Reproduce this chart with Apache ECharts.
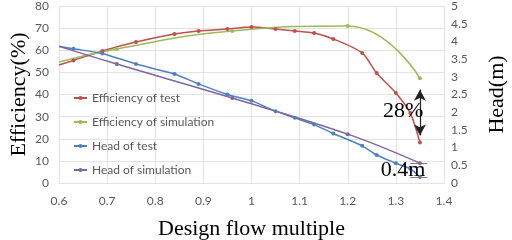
<!DOCTYPE html>
<html>
<head>
<meta charset="utf-8">
<script src="https://cdn.jsdelivr.net/npm/echarts@6/dist/echarts.min.js"></script>
<style>
  html, body { margin: 0; padding: 0; background: #fff; }
  #chart { width: 512px; height: 240px; }
</style>
</head>
<body>
<div id="chart"></div>
<script>
// design flow multiple (x) for each series
const flowTest = [0.6, 0.63, 0.69, 0.76, 0.84, 0.89, 0.95, 1.0, 1.05, 1.09, 1.13, 1.17, 1.23, 1.26, 1.30, 1.33, 1.35]
const flowSim = [0.6, 0.72, 0.96, 1.2, 1.35]

const effTest = [53.3, 55.4, 59.7, 63.7, 67.3, 68.7, 69.6, 70.5, 69.6, 68.7, 67.8, 65.1, 58.8, 49.7, 40.7, 31.6, 18.3]
const effSim = [54.7, 60.6, 68.7, 71.0, 47.3]
const headTest = [3.86, 3.79, 3.66, 3.36, 3.08, 2.80, 2.50, 2.32, 2.03, 1.84, 1.65, 1.40, 1.05, 0.79, 0.56, 0.40, 0.17]
const headSim = [3.86, 3.36, 2.40, 1.38, 0.56]

const names = ['Efficiency of test', 'Efficiency of simulation', 'Head of test', 'Head of simulation']
const colors = ['#c0504d', '#9bbb59', '#4f81bd', '#8064a2']

// annotations
const gapEff = [42.2, 21.5]      // arrow ends (efficiency axis)
const gapHead = [0.56, 0.17]     // head difference marks
const notes = [{ text: '28%', x: 1.315, y: 32.4 }, { text: '0.4m', x: 1.315, y: 0.36 }]

const serif = '"Liberation Serif", "Times New Roman", serif'
const sans = 'Lato, "Noto Sans", sans-serif'
const gridColor = '#e3e3e3'
const labelColor = '#595959'

const toPoints = (xs, ys) => xs.map((x, i) => (i === 0 ? { value: [x, ys[i]], symbol: 'none' } : [x, ys[i]]))

const chart = echarts.init(document.getElementById('chart'))

const lineSeries = (i, xs, ys, yAxisIndex, smooth) => ({
  name: names[i],
  type: 'line',
  yAxisIndex,
  data: toPoints(xs, ys),
  smooth,
  smoothMonotone: 'none',
  symbol: 'circle',
  symbolSize: 4,
  lineStyle: { width: 1.5, color: colors[i] },
  itemStyle: { color: colors[i] },
})

const noteLabel = (n) => ({
  coord: [n.x, n.y],
  label: { show: true, formatter: n.text, color: '#000', fontSize: 22, fontFamily: serif },
})

const effSimSeries = lineSeries(1, flowSim, effSim, 0, 0.5)
effSimSeries.markLine = {
  silent: true,
  symbol: ['arrow', 'arrow'],
  symbolSize: [9, 11],
  label: { show: false },
  lineStyle: { color: '#222', width: 1.2, type: 'solid' },
  data: [[{ coord: [1.35, gapEff[0]] }, { coord: [1.35, gapEff[1]] }]],
}
effSimSeries.markPoint = { silent: true, symbol: 'circle', symbolSize: 0, data: [noteLabel(notes[0])] }

const headSimSeries = lineSeries(3, flowSim, headSim, 1, 0.4)
headSimSeries.markLine = {
  silent: true,
  symbol: ['none', 'none'],
  label: { show: false },
  lineStyle: { color: '#7f7f7f', width: 1, type: 'solid' },
  data: gapHead.map((h) => [{ coord: [1.33, h] }, { coord: [1.365, h] }]),
}
headSimSeries.markPoint = { silent: true, symbol: 'circle', symbolSize: 0, data: [noteLabel(notes[1])] }

chart.setOption({
  animation: false,
  color: colors,
  grid: { left: 59, right: 68, top: 6, bottom: 57, outerBoundsMode: 'none' },
  legend: {
    orient: 'vertical',
    left: 68,
    top: 87,
    itemGap: 12,
    itemWidth: 13,
    itemHeight: 5,
    textStyle: { color: labelColor, fontSize: 12, fontFamily: sans },
    data: names,
  },
  xAxis: {
    type: 'value',
    min: 0.6,
    max: 1.4,
    interval: 0.1,
    name: 'Design flow multiple',
    nameLocation: 'middle',
    nameGap: 35,
    nameMoveOverlap: false,
    nameTextStyle: { color: '#000', fontSize: 22, fontFamily: serif },
    axisLine: { lineStyle: { color: gridColor } },
    axisTick: { show: false },
    axisLabel: { color: labelColor, fontSize: 12, fontFamily: sans, margin: 12 },
    splitLine: { lineStyle: { color: gridColor } },
  },
  yAxis: [
    {
      type: 'value',
      min: 0,
      max: 80,
      interval: 10,
      name: 'Efficiency(%)',
      nameLocation: 'middle',
      nameRotate: 90,
      nameGap: 29,
      nameMoveOverlap: false,
      nameTextStyle: { color: '#000', fontSize: 22, fontFamily: serif },
      axisLine: { show: false },
      axisTick: { show: false },
      axisLabel: { color: labelColor, fontSize: 12, fontFamily: sans, margin: 10 },
      splitLine: { lineStyle: { color: gridColor } },
    },
    {
      type: 'value',
      min: 0,
      max: 5,
      interval: 0.5,
      name: 'Head(m)',
      nameLocation: 'middle',
      nameRotate: 90,
      nameGap: 42,
      nameMoveOverlap: false,
      nameTextStyle: { color: '#000', fontSize: 22, fontFamily: serif },
      axisLine: { show: false },
      axisTick: { show: false },
      axisLabel: { color: labelColor, fontSize: 12, fontFamily: sans, margin: 7 },
      splitLine: { show: false },
    },
  ],
  series: [
    lineSeries(0, flowTest, effTest, 0, 0.25),
    effSimSeries,
    lineSeries(2, flowTest, headTest, 1, 0.25),
    headSimSeries,
  ],
})
</script>
</body>
</html>
